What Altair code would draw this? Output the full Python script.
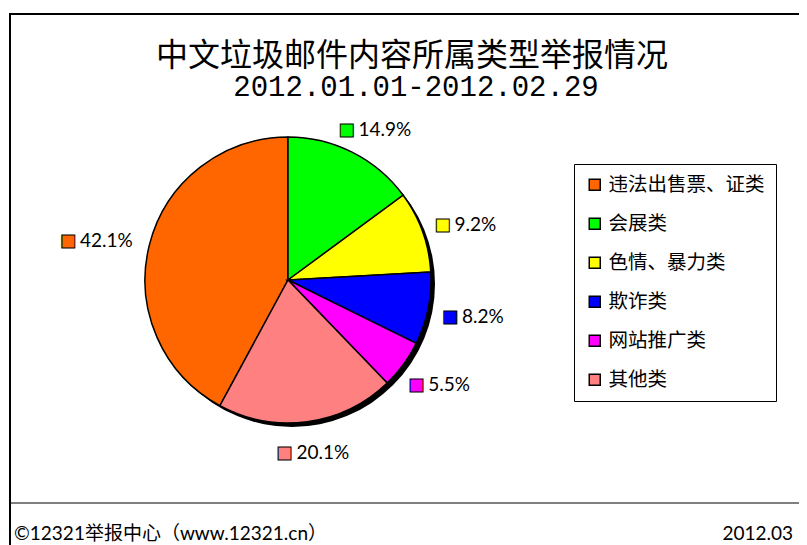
import altair as alt
import pandas as pd

# ---- data ----
categories = ["违法出售票、证类", "会展类", "色情、暴力类", "欺诈类", "网站推广类", "其他类"]
values = [42.1, 14.9, 9.2, 8.2, 5.5, 20.1]
colors = ["#FF6600", "#00FF00", "#FFFF00", "#0000FF", "#FF00FF", "#FF8080"]
pie_sequence = ["会展类", "色情、暴力类", "欺诈类", "网站推广类", "其他类", "违法出售票、证类"]

title_text = "中文垃圾邮件内容所属类型举报情况"
subtitle_text = "2012.01.01-2012.02.29"
footer_left = "©12321举报中心（www.12321.cn）"
footer_right = "2012.03"

df = pd.DataFrame({
    "cat": categories,
    "value": values,
    "label": [f"{v:.1f}%" for v in values],
    "ord": [pie_sequence.index(c) for c in categories],
})

CX, CY, R = 279, 272, 143
LR = R + 17

color_scale = alt.Scale(domain=categories, range=colors)
theta = alt.Theta("value:Q", stack=True)
order = alt.Order("ord:Q", sort="ascending")

base = alt.Chart(df)

shadow = alt.Chart(alt.Data(values=[{}])).mark_arc(
    radius=R, theta=0, theta2=6.2832, fill="black"
).encode(x=alt.value(CX + 4), y=alt.value(CY + 4))

pie = base.mark_arc(radius=R, stroke="black", strokeWidth=1.5).encode(
    theta=theta,
    order=order,
    fill=alt.Fill(
        "cat:N",
        scale=color_scale,
        legend=alt.Legend(
            orient="none", legendX=565, legendY=156, title=None,
            strokeColor="black", fillColor="white", padding=11,
            rowPadding=18, labelFontSize=19.5, labelFont="Noto Sans CJK SC",
            labelColor="black", symbolType="square", symbolSize=121,
            symbolStrokeColor="black", symbolStrokeWidth=1.5,
            labelOffset=4, labelLimit=400,
        ),
    ),
    x=alt.value(CX), y=alt.value(CY),
)

lab_base = base.transform_joinaggregate(
    total="sum(value)"
).transform_window(
    cum="sum(value)", sort=[alt.SortField("ord", order="ascending")],
    frame=[None, 0]
).transform_calculate(
    mid="(datum.cum - datum.value / 2) / datum.total * 2 * PI"
)

squares = lab_base.mark_text(
    radius=LR, text="■", fontSize=17, font="DejaVu Sans", stroke="black",
    strokeWidth=1, align="center", baseline="middle",
    dx=alt.expr("36 * sin(datum.mid) - 30"),
    dy=alt.expr("3 - 12 * cos(datum.mid)"),
).encode(
    theta=theta, order=order,
    fill=alt.Fill("cat:N", scale=color_scale, legend=None),
    x=alt.value(CX), y=alt.value(CY),
)

pct = lab_base.mark_text(
    radius=LR, fontSize=19, font="Lato", color="black",
    align="left", baseline="middle",
    dx=alt.expr("36 * sin(datum.mid) - 18"),
    dy=alt.expr("3 - 12 * cos(datum.mid)"),
).encode(
    theta=theta, order=order, text="label:N",
    x=alt.value(CX), y=alt.value(CY),
)

one = alt.Data(values=[{}])
title = alt.Chart(one).mark_text(
    text=title_text, fontSize=32, font="Noto Sans CJK SC", align="center",
    baseline="alphabetic", color="black",
).encode(x=alt.value(403), y=alt.value(58))
subtitle = alt.Chart(one).mark_text(
    text=subtitle_text, fontSize=29, font="Liberation Mono", align="center",
    baseline="alphabetic", color="black",
).encode(x=alt.value(407), y=alt.value(88))

top_rule = alt.Chart(one).mark_rule(color="black", strokeWidth=2).encode(
    x=alt.value(0), x2=alt.value(800), y=alt.value(6))
left_rule = alt.Chart(one).mark_rule(color="black", strokeWidth=2).encode(
    x=alt.value(1), y=alt.value(6), y2=alt.value(537))
bottom_rule = alt.Chart(one).mark_rule(color="black", strokeWidth=1.2).encode(
    x=alt.value(2), x2=alt.value(792), y=alt.value(495))

foot_l = alt.Chart(one).mark_text(
    text=footer_left, fontSize=19, font="Lato, Noto Sans CJK SC", align="left",
    baseline="alphabetic", color="black",
).encode(x=alt.value(5), y=alt.value(532))
foot_r = alt.Chart(one).mark_text(
    text=footer_right, fontSize=19, font="Lato", align="right",
    baseline="alphabetic", color="black",
).encode(x=alt.value(784), y=alt.value(532))

chart = alt.layer(
    top_rule, left_rule, bottom_rule, title, subtitle,
    shadow, pie, squares, pct, foot_l, foot_r,
).properties(
    width=791, height=537, padding=0,
    autosize=alt.AutoSizeParams(type="fit", contains="padding"),
).configure_view(stroke=None)

chart.save("out.html", embed_options={"renderer": "svg", "actions": False})
